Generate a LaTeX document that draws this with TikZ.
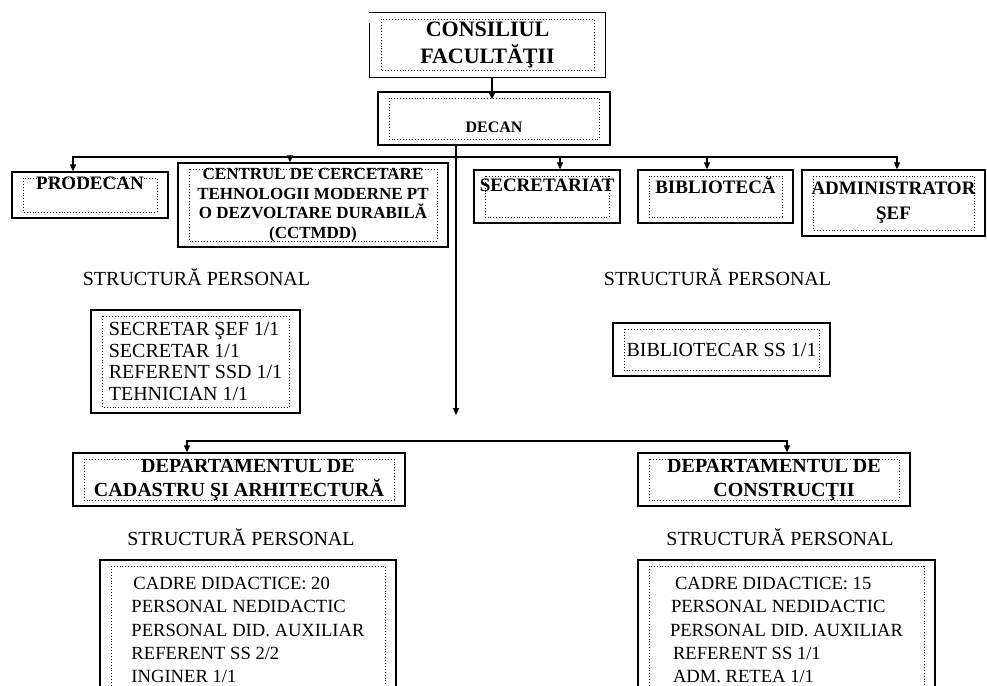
\documentclass[tikz,border=0pt]{standalone}
\usepackage{fontspec}
\setmainfont{Liberation Serif}
\usepackage{tikz}
\usetikzlibrary{arrows.meta,positioning}
\tikzstyle{orgbox} = [rectangle, draw, line width=1.3pt, inner sep=0pt, align=center, path picture={\draw[line width=0.9pt, dotted] ([shift={(11pt,-6pt)}]path picture bounding box.north west) rectangle ([shift={(-11pt,6pt)}]path picture bounding box.south east);}]
\tikzstyle{unitbox} = [orgbox, font=\fontsize{19}{23}\selectfont\bfseries]
\tikzstyle{deptbox} = [orgbox, minimum height=53pt, font=\fontsize{20}{24}\selectfont\bfseries]
\tikzstyle{staffbox} = [orgbox, align=left, font=\fontsize{20}{21.7}\selectfont]
\tikzstyle{bigstaffbox} = [orgbox, align=left, minimum height=140pt, font=\fontsize{18.6}{23.3}\selectfont]
\tikzstyle{structlabel} = [font=\fontsize{20}{24}\selectfont]
\tikzstyle{arrow} = [line width=1.1pt,->,>={Triangle[length=7pt,width=6pt]}]

\begin{document}
\begin{tikzpicture}[x=1pt,y=-1pt]
\clip (0,0) rectangle (987,685);
% Top
\node (consiliu) [orgbox, draw=none, minimum width=235pt, minimum height=63pt, font=\fontsize{22}{27}\selectfont\bfseries] at (487.5,45) {CONSILIUL\\FACULTĂŢII};
\draw[line width=1.3pt] ([yshift=-10pt]consiliu.north west) |- (consiliu.south east) |- (consiliu.north west);
\node (decan) [orgbox, minimum width=232pt, minimum height=53pt, font=\fontsize{16}{19}\selectfont\bfseries] at (494,118.5) {\mbox{}\\[9pt]DECAN};

% Units
\node (prodecan) [unitbox, minimum width=156pt, minimum height=46pt] at (90,195) {PRODECAN\\\mbox{}};
\node (cctmdd) [orgbox, minimum width=270pt, minimum height=84pt, font=\fontsize{17}{19.5}\selectfont\bfseries] at (313,205) {CENTRUL DE CERCETARE\\TEHNOLOGII MODERNE PT\\O DEZVOLTARE DURABILĂ\\(CCTMDD)};
\node (secretariat) [unitbox, minimum width=146pt, minimum height=53pt] at (547,196.5) {SECRETARIAT\\\mbox{}};
\node (biblioteca) [unitbox, minimum width=155pt, minimum height=53pt] at (715.5,196.5) {BIBLIOTECĂ\\\mbox{}};
\node (admin) [unitbox, minimum width=183pt, minimum height=66pt, font=\fontsize{19}{25}\selectfont\bfseries] at (893.5,203) {ADMINISTRATOR\\ŞEF};

% Staff of secretariat and library
\node (structsec) [structlabel] at (196.5,277) {STRUCTURĂ PERSONAL};
\node (structbib) [structlabel] at (717.5,277) {STRUCTURĂ PERSONAL};
\node (staffsec) [staffbox, minimum width=209pt, minimum height=103pt] at (195.5,361.5) {SECRETAR ŞEF 1/1\\SECRETAR 1/1\\REFERENT SSD 1/1\\TEHNICIAN 1/1};
\node (staffbib) [staffbox, minimum width=217pt, minimum height=53pt] at (721.5,349.5) {BIBLIOTECAR SS 1/1};

% Departments
\coordinate (bus) at (456,157);
\coordinate (hub) at (456,415);
\coordinate (bus2) at (456,441);
\node (deptcad) [deptbox, minimum width=332pt] at (239,479.5) {\hspace{18pt}DEPARTAMENTUL DE\\CADASTRU ŞI ARHITECTURĂ};
\node (deptcon) [deptbox, minimum width=272pt] at (774,479.5) {DEPARTAMENTUL DE\\\hspace{20pt}CONSTRUCŢII};
\node (structcad) [structlabel] at (241,537) {STRUCTURĂ PERSONAL};
\node (structcon) [structlabel] at (780,537) {STRUCTURĂ PERSONAL};
\node (staffcad) [bigstaffbox, minimum width=296pt] at (248,630) {\hspace{2pt}CADRE DIDACTICE: 20\\PERSONAL NEDIDACTIC\\PERSONAL DID. AUXILIAR\\REFERENT SS 2/2\\INGINER 1/1};
\node (staffcon) [bigstaffbox, minimum width=297pt] at (786.5,630) {\hspace{5pt}CADRE DIDACTICE: 15\\\hspace{1pt}PERSONAL NEDIDACTIC\\PERSONAL DID. AUXILIAR\\\hspace{3pt}REFERENT SS 1/1\\\hspace{3pt}ADM. RETEA 1/1};

% Arrows
\draw[arrow] ([xshift=4.5pt]consiliu.south) -- ([xshift=-2pt,yshift=-8pt]decan.north);
\draw[arrow] (decan.south -| hub) -- (hub);
\draw[arrow] (bus) -| ([xshift=-17pt]prodecan.north);
\draw[arrow] (bus) -| ([xshift=-23pt]cctmdd.north);
\draw[arrow] (bus) -| ([xshift=13pt]secretariat.north);
\draw[arrow] (bus) -| ([xshift=-8.5pt]biblioteca.north);
\draw[arrow] (bus) -| ([xshift=3.5pt]admin.north);
\draw[arrow] (bus2) -| ([xshift=-52pt]deptcad.north);
\draw[arrow] (bus2) -| ([xshift=13pt]deptcon.north);
\end{tikzpicture}
\end{document}
